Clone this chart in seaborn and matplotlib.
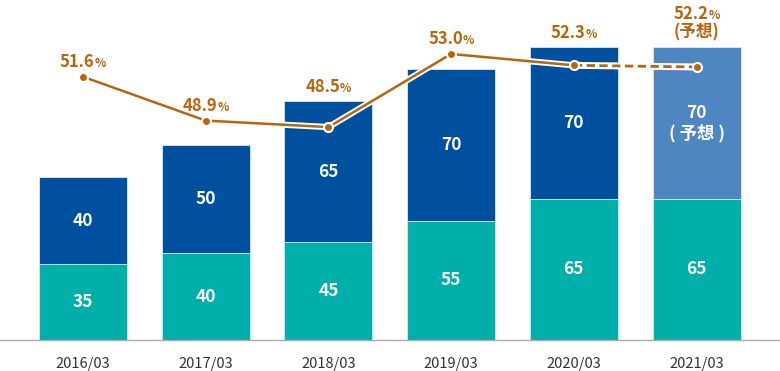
import numpy as np
import pandas as pd
import seaborn as sns
import matplotlib.pyplot as plt
import matplotlib.patheffects as pe
from matplotlib.offsetbox import TextArea, HPacker, VPacker, AnnotationBbox

years = ["2016/03", "2017/03", "2018/03", "2019/03", "2020/03", "2021/03"]
lower = [35, 40, 45, 55, 65, 65]
upper = [40, 50, 65, 70, 70, 70]
ratio = [51.6, 48.9, 48.5, 53.0, 52.3, 52.2]
forecast = [False, False, False, False, False, True]

TEAL = "#00afa9"
NAVY = "#0050a0"
LIGHT = "#4d86c1"
ORANGE = "#b8660b"

sns.set_theme(style="white")
plt.rcParams["font.family"] = ["Noto Sans CJK JP", "DejaVu Sans"]

df = pd.DataFrame({"year": years, "lower": lower, "upper": upper})
df["total"] = df["lower"] + df["upper"]
top_colors = [LIGHT if f else NAVY for f in forecast]

fig = plt.figure(figsize=(7.8, 3.71), dpi=100)
ax = fig.add_axes([0, 31 / 371, 1, 340 / 371])

sns.barplot(data=df, x="year", y="total", hue="year", palette=top_colors,
            legend=False, width=0.717, ax=ax, saturation=1,
            edgecolor="#dfe8f2", linewidth=0.6)
sns.barplot(data=df, x="year", y="lower", color=TEAL, width=0.717, ax=ax,
            saturation=1, edgecolor="#d6f0ef", linewidth=0.6)

ax.set_xlim(-0.676, 5.68)
ax.set_ylim(0, 156.7)
ax.set_xlabel("")
ax.set_ylabel("")
ax.set_yticks([])
for s in ["left", "right", "top"]:
    ax.spines[s].set_visible(False)
ax.spines["bottom"].set_color("#aaaaaa")
ax.spines["bottom"].set_linewidth(1)
ax.tick_params(axis="x", length=0, pad=12, labelsize=10.5, labelcolor="#333333")

# labels inside the bars
for i, row in df.iterrows():
    ax.text(i, row["lower"] / 2, str(row["lower"]), ha="center", va="center",
            color="white", fontsize=12.5, fontweight="bold")
    txt = str(row["upper"]) + ("\n( 予想 )" if forecast[i] else "")
    ax.text(i, row["lower"] + row["upper"] / 2, txt, ha="center", va="center",
            color="white", fontsize=12.5, fontweight="bold", linespacing=1.1)

# ratio line on a second axis
ax2 = ax.twinx()
ax2.set_ylim(35.4, 56.32)
ax2.set_yticks([])
for s in ax2.spines.values():
    s.set_visible(False)

xs = np.arange(len(years))
n_act = len(years) - sum(forecast)
outline = [pe.Stroke(linewidth=4.5, foreground="white"), pe.Normal()]
sns.lineplot(x=xs[:n_act], y=ratio[:n_act], color=ORANGE, lw=1.8, ax=ax2,
             path_effects=outline)
ax2.plot(xs[n_act - 1:], ratio[n_act - 1:], color="white", lw=5, solid_capstyle="butt")
ax2.plot(xs[n_act - 1:], ratio[n_act - 1:], color=ORANGE, lw=2, ls=(0, (3, 1.6)))
ax2.plot(xs, ratio, ls="none", marker="o", ms=6.5, mfc=ORANGE, mec="white", mew=1.5)
ax2.set_xlim(ax.get_xlim())

# ratio labels placed above the higher of point / bar top
big = dict(color=ORANGE, fontsize=12, fontweight="bold")
small = dict(color=ORANGE, fontsize=8.5, fontweight="bold")
for i in range(len(years)):
    x_disp, y_bar = ax.transData.transform((i, df["total"][i]))
    _, y_pt = ax2.transData.transform((i, ratio[i]))
    top = max(y_bar, y_pt)
    box = HPacker(children=[TextArea(f"{ratio[i]:.1f}", textprops=big),
                            TextArea("%", textprops=small)],
                  align="baseline", pad=0, sep=0)
    if forecast[i]:
        box = VPacker(children=[box, TextArea("(予想)", textprops=big)],
                      align="center", pad=0, sep=0)
    ab = AnnotationBbox(box, (x_disp, top), xycoords="figure pixels",
                        xybox=(0, 4), boxcoords="offset points",
                        box_alignment=(0.5, 0), frameon=False)
    ax2.add_artist(ab)

fig.savefig("out.png", dpi=100)
